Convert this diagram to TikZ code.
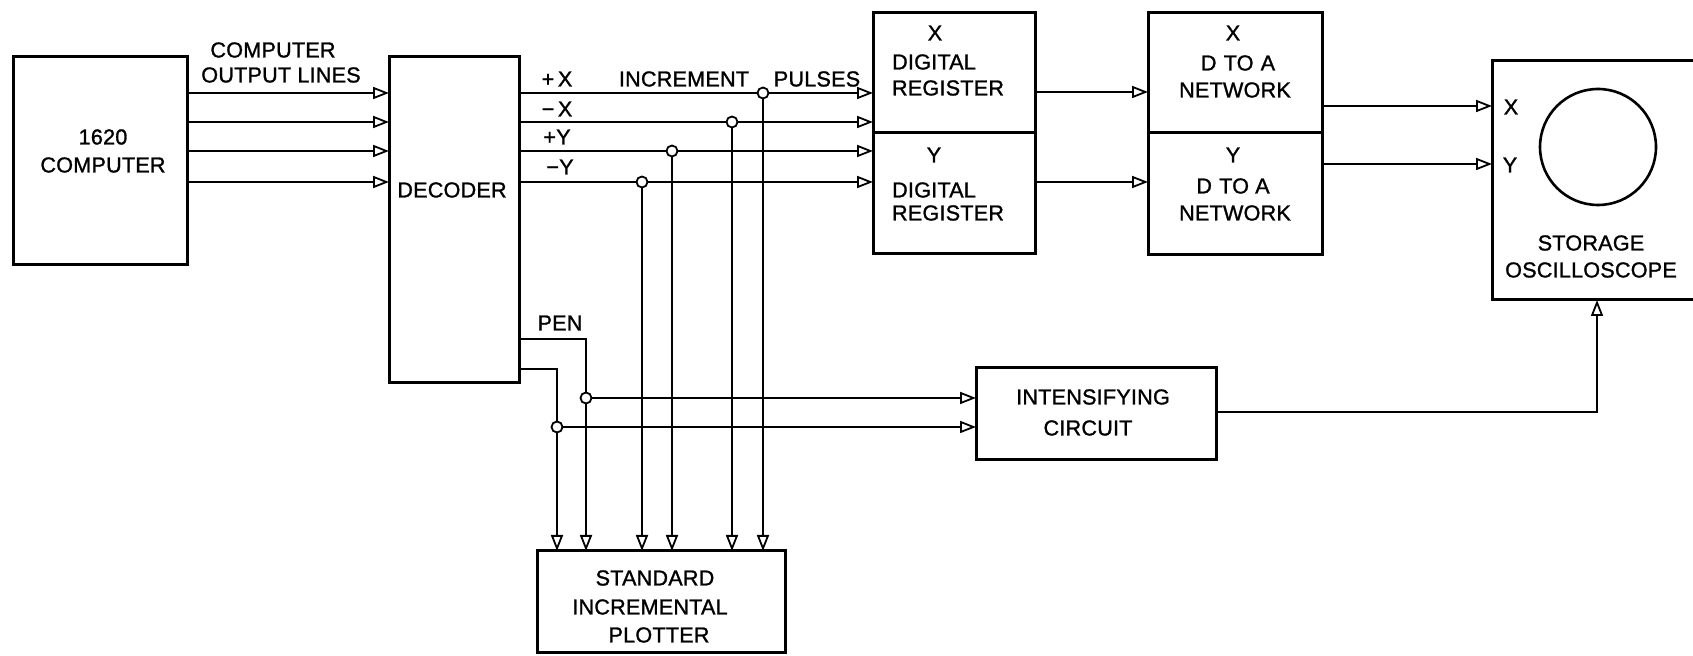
\documentclass[tikz,border=0pt]{standalone}
\usepackage{fontspec}
\setmainfont{Liberation Sans}[LetterSpace=1,FakeBold=1.2]
\usetikzlibrary{arrows.meta}
\begin{document}
\begin{tikzpicture}[x=0.5pt,y=-0.5pt,
  box/.style={draw, line width=1.5pt, inner sep=0pt, outer sep=0pt},
  lbl/.style={font=\fontsize{10.8}{12}\selectfont, inner sep=0pt},
  wire/.style={line width=1.2pt},
  arr/.style={wire, -{Triangle[length=8pt,width=6pt,fill=white,line width=0.9pt]}},
  dot/.style={circle, draw, fill=white, line width=0.9pt, inner sep=0pt, minimum size=5.5pt}]
\useasboundingbox (0,0) rectangle (1693,656);
% boxes
\node[box, minimum width=87pt, minimum height=104pt] (comp) at (100,161) {};
\node[box, minimum width=65pt, minimum height=163pt] (dec) at (454,220) {};
\node[box, minimum width=81pt, minimum height=60pt] (xreg) at (954,73) {};
\node[box, minimum width=81pt, minimum height=60.5pt] (yreg) at (954,193.5) {};
\node[box, minimum width=87pt, minimum height=60pt] (xda) at (1235,73) {};
\node[box, minimum width=87pt, minimum height=61pt] (yda) at (1235,194) {};
\node[box, minimum width=105pt, minimum height=119.5pt] (osc) at (1597,180.5) {};
\node[box, minimum width=120pt, minimum height=46pt] (intens) at (1096,414) {};
\node[box, minimum width=124pt, minimum height=51pt] (plot) at (661,602) {};
\node[draw, circle, line width=1.3pt, minimum size=58pt, inner sep=0pt] (screen) at (1598,147) {};
% level coordinates
\coordinate (y1) at (0,93);
\coordinate (y2) at (0,122);
\coordinate (y3) at (0,151);
\coordinate (y4) at (0,182);
\coordinate (r1) at (0,92);
\coordinate (r2) at (0,182);
\coordinate (o1) at (0,106);
\coordinate (o2) at (0,164);
\coordinate (i1) at (0,412);
\coordinate (cpx) at (763,93);
\coordinate (cmx) at (732,122);
\coordinate (cpy) at (672,151);
\coordinate (cmy) at (642,182);
\coordinate (pena) at (586,339);
\coordinate (penb) at (557,369);
\coordinate (cpena) at (586,398);
\coordinate (cpenb) at (557,427);
% computer output lines
\draw[arr] (comp.east |- y1) -- (dec.west |- y1);
\draw[arr] (comp.east |- y2) -- (dec.west |- y2);
\draw[arr] (comp.east |- y3) -- (dec.west |- y3);
\draw[arr] (comp.east |- y4) -- (dec.west |- y4);
% increment pulses
\draw[arr] (dec.east |- y1) -- (xreg.west |- y1);
\draw[arr] (dec.east |- y2) -- (xreg.west |- y2);
\draw[arr] (dec.east |- y3) -- (yreg.west |- y3);
\draw[arr] (dec.east |- y4) -- (yreg.west |- y4);
\draw[arr] (cpx) -- (cpx |- plot.north);
\draw[arr] (cmx) -- (cmx |- plot.north);
\draw[arr] (cpy) -- (cpy |- plot.north);
\draw[arr] (cmy) -- (cmy |- plot.north);
% pen lines
\draw[arr] (dec.east |- pena) -| (plot.north -| pena);
\draw[arr] (dec.east |- penb) -| (plot.north -| penb);
\draw[arr] (cpena) -- (intens.west |- cpena);
\draw[arr] (cpenb) -- (intens.west |- cpenb);
% registers to D/A, D/A to scope
\draw[arr] (xreg.east |- r1) -- (xda.west |- r1);
\draw[arr] (yreg.east |- r2) -- (yda.west |- r2);
\draw[arr] (xda.east |- o1) -- (osc.west |- o1);
\draw[arr] (yda.east |- o2) -- (osc.west |- o2);
\draw[arr] (intens.east |- i1) -| (osc.south);
% branch dots
\node[dot] (bpx) at (cpx) {};
\node[dot] (bmx) at (cmx) {};
\node[dot] (bpy) at (cpy) {};
\node[dot] (bmy) at (cmy) {};
\node[dot] (bpena) at (cpena) {};
\node[dot] (bpenb) at (cpenb) {};
% texts
\node[lbl] (t1620) at (103,137) {1620};
\node[lbl] (tcomp) at (103,165) {COMPUTER};
\node[lbl] (tdec) at (452,190) {DECODER};
\node[lbl] (tcol1) at (273,50) {COMPUTER};
\node[lbl] (tcol2) at (281,75) {OUTPUT LINES};
\node[lbl] (tpx) at (557,79) {+\,X};
\node[lbl] (tmx) at (557,109) {−\,X};
\node[lbl] (tpy) at (557,137) {+Y};
\node[lbl] (tmy) at (560,167) {−Y};
\node[lbl] (tinc) at (684,79) {INCREMENT};
\node[lbl] (tpul) at (817,79) {PULSES};
\node[lbl] (tpen) at (560,323) {PEN};
\node[lbl] (tx1) at (935,33) {X};
\node[lbl] (tdig1) at (934,62) {DIGITAL};
\node[lbl] (treg1) at (948,88) {REGISTER};
\node[lbl] (ty1) at (934,155) {Y};
\node[lbl] (tdig2) at (934,190) {DIGITAL};
\node[lbl] (treg2) at (948,213) {REGISTER};
\node[lbl] (tx2) at (1233,33) {X};
\node[lbl] (tda1) at (1238,63) {D\,\,TO\,\,A};
\node[lbl] (tnet1) at (1235,90) {NETWORK};
\node[lbl] (ty2) at (1233,155) {Y};
\node[lbl] (tda2) at (1233,186) {D\,\,TO A};
\node[lbl] (tnet2) at (1235,213) {NETWORK};
\node[lbl] (tox) at (1511,107) {X};
\node[lbl] (toy) at (1510,165) {Y};
\node[lbl] (tsto) at (1591,243) {STORAGE};
\node[lbl] (tosc) at (1591,270) {OSCILLOSCOPE};
\node[lbl] (tint) at (1093,397) {INTENSIFYING};
\node[lbl] (tcir) at (1088,428) {CIRCUIT};
\node[lbl] (tsta) at (655,578) {STANDARD};
\node[lbl] (tincr) at (650,607) {INCREMENTAL};
\node[lbl] (tplo) at (659,635) {PLOTTER};
\end{tikzpicture}
\end{document}
